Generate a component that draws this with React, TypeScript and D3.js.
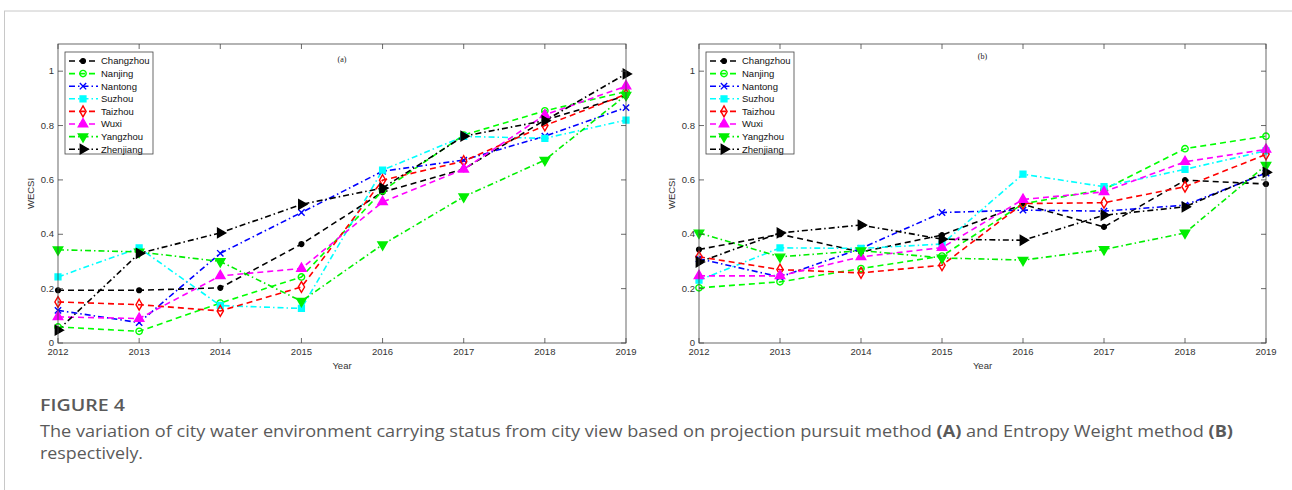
import React from "react";
import * as d3 from "d3";

const WIDTH = 1292;
const HEIGHT = 490;

const YEARS = [2012, 2013, 2014, 2015, 2016, 2017, 2018, 2019];
const CITIES = ["Changzhou", "Nanjing", "Nantong", "Suzhou", "Taizhou", "Wuxi", "Yangzhou", "Zhenjiang"];
const Y_TICKS = [0, 0.2, 0.4, 0.6, 0.8, 1];
const Y_TICK_LABELS = ["0", "0.2", "0.4", "0.6", "0.8", "1"];

// (a) projection pursuit
const aChangzhou = [0.194, 0.194, 0.203, 0.364, 0.555, 0.64, 0.82, 0.91];
const aNanjing = [0.059, 0.043, 0.147, 0.243, 0.56, 0.765, 0.854, 0.925];
const aNantong = [0.12, 0.075, 0.33, 0.48, 0.632, 0.673, 0.761, 0.866];
const aSuzhou = [0.243, 0.35, 0.138, 0.127, 0.636, 0.76, 0.753, 0.82];
const aTaizhou = [0.151, 0.141, 0.118, 0.206, 0.599, 0.669, 0.8, 0.915];
const aWuxi = [0.096, 0.09, 0.247, 0.274, 0.519, 0.639, 0.839, 0.945];
const aYangzhou = [0.343, 0.335, 0.3, 0.154, 0.362, 0.538, 0.673, 0.912];
const aZhenjiang = [0.047, 0.33, 0.405, 0.51, 0.57, 0.761, 0.818, 0.99];

// (b) entropy weight
const bChangzhou = [0.344, 0.4, 0.335, 0.397, 0.51, 0.427, 0.599, 0.585];
const bNanjing = [0.203, 0.225, 0.274, 0.32, 0.512, 0.565, 0.715, 0.761];
const bNantong = [0.31, 0.243, 0.348, 0.48, 0.489, 0.485, 0.507, 0.625];
const bSuzhou = [0.231, 0.35, 0.348, 0.364, 0.621, 0.575, 0.639, 0.707];
const bTaizhou = [0.317, 0.27, 0.258, 0.286, 0.513, 0.516, 0.575, 0.694];
const bWuxi = [0.247, 0.247, 0.317, 0.351, 0.528, 0.556, 0.667, 0.712];
const bYangzhou = [0.405, 0.317, 0.34, 0.313, 0.305, 0.344, 0.405, 0.654];
const bZhenjiang = [0.298, 0.405, 0.434, 0.382, 0.378, 0.47, 0.501, 0.628];

const SERIES_A = [aChangzhou, aNanjing, aNantong, aSuzhou, aTaizhou, aWuxi, aYangzhou, aZhenjiang];
const SERIES_B = [bChangzhou, bNanjing, bNantong, bSuzhou, bTaizhou, bWuxi, bYangzhou, bZhenjiang];

const DASH = "6,4";
const DASHDOT = "6,3,1.5,3";

// marker: symbol type, rotation, filled
const STYLES = [
  { color: "#000000", dash: DASH, sym: d3.symbolCircle, size: 18, rot: 0, fill: true },
  { color: "#00ff00", dash: DASH, sym: d3.symbolCircle, size: 32, rot: 0, fill: false },
  { color: "#0000ff", dash: DASHDOT, sym: d3.symbolTimes, size: 28, rot: 0, fill: false },
  { color: "#00ffff", dash: DASHDOT, sym: d3.symbolSquare, size: 34, rot: 0, fill: true },
  { color: "#ff0000", dash: DASH, sym: d3.symbolDiamond, size: 34, rot: 0, fill: false },
  { color: "#ff00ff", dash: DASH, sym: d3.symbolTriangle, size: 38, rot: 0, fill: true },
  { color: "#00ee00", dash: DASHDOT, sym: d3.symbolTriangle, size: 38, rot: 180, fill: true },
  { color: "#000000", dash: DASHDOT, sym: d3.symbolTriangle, size: 38, rot: 90, fill: true },
];

const AXIS_COLOR = "#444";
const TOP = 44;
const BOTTOM = 343;

const Marker = ({ x, y, i }: { x: number; y: number; i: number }) => {
  const s = STYLES[i];
  const d = d3.symbol().type(s.sym).size(s.size)() as string;
  return (
    <path
      d={d}
      transform={`translate(${x},${y}) rotate(${s.rot})`}
      fill={s.fill ? s.color : "none"}
      stroke={s.color}
      strokeWidth={1.4}
    />
  );
};

const Panel = ({ left, right, title, titleY, series }: { left: number; right: number; title: string; titleY: number; series: number[][] }) => {
  const x = d3.scaleLinear().domain([2012, 2019]).range([left, right]);
  const y = d3.scaleLinear().domain([0, 1.1]).range([BOTTOM, TOP]);
  const line = d3
    .line<number>()
    .x((_, j) => x(YEARS[j]))
    .y((v) => y(v));
  const cx = (left + right) / 2;
  const legX = left + 7;
  const legY = 52;
  const rowH = 12.6;

  return (
    <g fontFamily="'Liberation Sans', Arial, sans-serif">
      <rect x={left} y={TOP} width={right - left} height={BOTTOM - TOP} fill="#fff" stroke="none" />
      {series.map((vals, i) => (
        <path key={"l" + i} d={line(vals) as string} fill="none" stroke={STYLES[i].color} strokeWidth={1.6} strokeDasharray={STYLES[i].dash} />
      ))}
      {series.map((vals, i) =>
        vals.map((v, j) => <Marker key={`m${i}-${j}`} x={x(YEARS[j])} y={y(v)} i={i} />)
      )}
      {/* axes box with inward ticks */}
      <rect x={left} y={TOP} width={right - left} height={BOTTOM - TOP} fill="none" stroke={AXIS_COLOR} strokeWidth={0.8} />
      {YEARS.map((yr) => (
        <g key={"xt" + yr}>
          <line x1={x(yr)} x2={x(yr)} y1={BOTTOM} y2={BOTTOM - 5} stroke={AXIS_COLOR} strokeWidth={0.8} />
          <line x1={x(yr)} x2={x(yr)} y1={TOP} y2={TOP + 5} stroke={AXIS_COLOR} strokeWidth={0.8} />
          <text x={x(yr)} y={BOTTOM + 12} fontSize={9.5} textAnchor="middle" fill="#333">
            {yr}
          </text>
        </g>
      ))}
      {Y_TICKS.map((t, k) => (
        <g key={"yt" + t}>
          <line x1={left} x2={left + 5} y1={y(t)} y2={y(t)} stroke={AXIS_COLOR} strokeWidth={0.8} />
          <line x1={right} x2={right - 5} y1={y(t)} y2={y(t)} stroke={AXIS_COLOR} strokeWidth={0.8} />
          <text x={left - 4} y={y(t) + 3} fontSize={9.5} textAnchor="end" fill="#333">
            {Y_TICK_LABELS[k]}
          </text>
        </g>
      ))}
      <text x={cx} y={BOTTOM + 26} fontSize={9.5} textAnchor="middle" fill="#333">
        Year
      </text>
      <text transform={`translate(${left - 24},${(TOP + BOTTOM) / 2}) rotate(-90)`} fontSize={9.5} textAnchor="middle" fill="#333">
        WECSI
      </text>
      <text x={cx} y={titleY} fontSize={8} textAnchor="middle" fontFamily="'Liberation Serif', serif" fill="#222">
        {title}
      </text>
      {/* legend */}
      <rect x={legX} y={legY} width={88} height={102} fill="#fff" stroke={AXIS_COLOR} strokeWidth={0.8} />
      {CITIES.map((c, i) => {
        const ry = legY + 9 + i * rowH;
        return (
          <g key={"lg" + c}>
            <line x1={legX + 4} x2={legX + 33} y1={ry} y2={ry} stroke={STYLES[i].color} strokeWidth={1.6} strokeDasharray={STYLES[i].dash} />
            <Marker x={legX + 18} y={ry} i={i} />
            <text x={legX + 36} y={ry + 3.3} fontSize={9.5} fill="#111">
              {c}
            </text>
          </g>
        );
      })}
    </g>
  );
};

export default function App() {
  return (
    <svg width={WIDTH} height={HEIGHT} style={{ position: "absolute", left: 0, top: 0, background: "#fff" }}>
      <rect x={0} y={0} width={WIDTH} height={HEIGHT} fill="#fff" />
      <line x1={4} x2={WIDTH} y1={11} y2={11} stroke="#c8c8c8" strokeWidth={1} />
      <line x1={4.5} x2={4.5} y1={11} y2={HEIGHT} stroke="#c8c8c8" strokeWidth={1} />
      <Panel left={58} right={626} title="(a)" titleY={62} series={SERIES_A} />
      <Panel left={699} right={1266} title="(b)" titleY={59} series={SERIES_B} />
      <g fontFamily="'Open Sans', sans-serif" fill="#5a5a5a">
        <text x={40} y={411} fontSize={17} fontWeight={600} textLength={85} lengthAdjust="spacingAndGlyphs">
          FIGURE 4
        </text>
        <text x={40} y={437} fontSize={16} textLength={1193} lengthAdjust="spacingAndGlyphs">
          The variation of city water environment carrying status from city view based on projection pursuit method{" "}
          <tspan fontWeight={700}>(A)</tspan> and Entropy Weight method <tspan fontWeight={700}>(B)</tspan>
        </text>
        <text x={40} y={459} fontSize={16} textLength={103} lengthAdjust="spacingAndGlyphs">
          respectively.
        </text>
      </g>
    </svg>
  );
}
